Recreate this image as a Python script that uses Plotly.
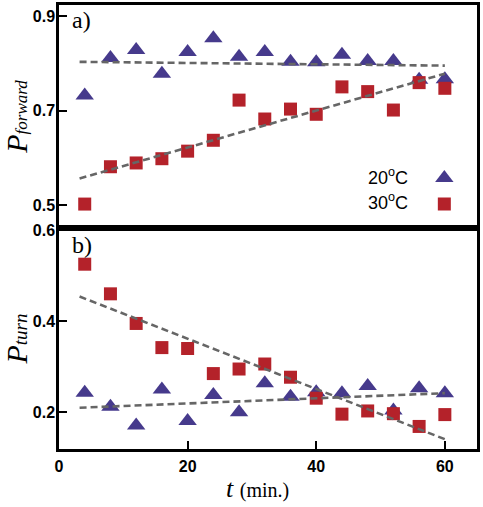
import plotly.graph_objects as go

# ---------------- data ----------------
t_min = [4, 8, 12, 16, 20, 24, 28, 32, 36, 40, 44, 48, 52, 56, 60]

fwd_20C = [0.732, 0.811, 0.828, 0.778, 0.824, 0.853, 0.814, 0.824, 0.803, 0.802,
           0.818, 0.805, 0.805, 0.765, 0.766]
fwd_30C = [0.502, 0.581, 0.589, 0.598, 0.614, 0.637, 0.722, 0.682, 0.703, 0.692,
           0.750, 0.740, 0.701, 0.759, 0.747]

turn_20C = [0.243, 0.212, 0.171, 0.250, 0.181, 0.238, 0.200, 0.264, 0.234, 0.244,
            0.242, 0.258, 0.204, 0.253, 0.242]
turn_30C = [0.525, 0.460, 0.395, 0.342, 0.340, 0.285, 0.295, 0.306, 0.277, 0.231,
            0.196, 0.203, 0.197, 0.169, 0.195]

# linear fits (end points)
fit_t = [3.2, 60]
fit_fwd_20C = [0.803, 0.795]
fit_fwd_30C = [0.556, 0.778]
fit_turn_20C = [0.210, 0.242]
fit_turn_30C = [0.454, 0.141]

series_names = ["20<sup>o</sup>C", "30<sup>o</sup>C"]
x_ticks = [0, 20, 40, 60]
fwd_ticks = [0.5, 0.7, 0.9]
turn_ticks = [0.2, 0.4, 0.6]

# ---------------- style ----------------
TRI = "#463a8c"
SQR = "#b4222a"
FIT = "#666666"
sans = "Liberation Sans, Arial, sans-serif"
tickfont = dict(family=sans, size=16, color="black", weight="bold")
serif = "Liberation Serif, DejaVu Serif, serif"

fig = go.Figure()

def add_panel(yref_axis, ytri, ysq, fit20, fit30, legend):
    xa = "x" if yref_axis == "y" else "x2"
    fig.add_trace(go.Scatter(x=t_min, y=ytri, mode="markers", name=series_names[0],
                             legendgroup="g20",
                             marker=dict(symbol="triangle-up", size=16, color=TRI),
                             showlegend=legend, xaxis=xa, yaxis=yref_axis))
    fig.add_trace(go.Scatter(x=t_min, y=ysq, mode="markers", name=series_names[1],
                             legendgroup="g30",
                             marker=dict(symbol="square", size=13, color=SQR),
                             showlegend=legend, xaxis=xa, yaxis=yref_axis))
    for f in (fit20, fit30):
        fig.add_trace(go.Scatter(x=fit_t, y=f, mode="lines", showlegend=False,
                                 line=dict(color=FIT, width=2.6, dash="7px,4px"),
                                 xaxis=xa, yaxis=yref_axis))

add_panel("y", fwd_20C, fwd_30C, fit_fwd_20C, fit_fwd_30C, True)
add_panel("y2", turn_20C, turn_30C, fit_turn_20C, fit_turn_30C, False)

split = 0.4977
frame = dict(showline=True, linecolor="black", linewidth=2.5, mirror=True,
             showgrid=False, zeroline=False)
yticks_common = dict(ticks="inside", ticklen=8, tickwidth=2, tickcolor="black",
                     tickfont=tickfont, ticklabelstandoff=-2)

fig.update_layout(
    width=483, height=507,
    margin=dict(l=59, r=6, t=5, b=58, autoexpand=False),
    paper_bgcolor="white", plot_bgcolor="white",
    xaxis=dict(domain=[0, 1], anchor="y", range=[0, 65], matches="x2",
               showticklabels=False, ticks="", **frame),
    yaxis=dict(domain=[split, 1], anchor="x", range=[0.4513, 0.9233],
               tickvals=fwd_ticks, ticktext=["0.5", "0.7", "0.9"],
               title=dict(text="<i>P</i><span style='font-size:17px'><i>forward</i></span>",
                          font=dict(family=serif, size=30, color="black"), standoff=14),
               **yticks_common, **frame),
    xaxis2=dict(domain=[0, 1], anchor="y2", range=[0, 65],
                tickvals=x_ticks, ticks="inside", ticklen=8, tickwidth=2, tickcolor="black",
                tickfont=tickfont, ticklabelstandoff=1,
                **frame),
    yaxis2=dict(domain=[0, split], anchor="x2", range=[0.1195, 0.6044],
                tickvals=turn_ticks, ticktext=["0.2", "0.4", "0.6"],
                title=dict(text="<i>P</i><span style='font-size:19px'><i>turn</i></span>",
                           font=dict(family=serif, size=30, color="black"), standoff=14),
                **yticks_common, **frame),
    legend=dict(x=0.874, y=0.643, xanchor="left", yanchor="top",
                bgcolor="rgba(0,0,0,0)", traceorder="grouped", tracegroupgap=7,
                font=dict(size=1, color="rgba(0,0,0,0)")),
    showlegend=True,
)

# x-axis title
fig.add_annotation(xref="paper", yref="paper", x=0.476, y=-0.088, xanchor="center", yanchor="middle",
                   text="<i>t</i> <span style='font-size:20px'>(min.)</span>", showarrow=False,
                   font=dict(family=serif, size=26, color="black"))

# legend labels (text to the left of the legend symbols)
fig.add_annotation(xref="paper", yref="paper", x=0.84, y=0.614, xanchor="right", yanchor="middle",
                   text=series_names[0], showarrow=False,
                   font=dict(family=sans, size=18, color="black"))
fig.add_annotation(xref="paper", yref="paper", x=0.84, y=0.558, xanchor="right", yanchor="middle",
                   text=series_names[1], showarrow=False,
                   font=dict(family=sans, size=18, color="black"))

# panel labels
fig.add_annotation(xref="paper", yref="paper", x=0.026, y=0.966, xanchor="left", yanchor="middle",
                   text="a)", showarrow=False, font=dict(family=serif, size=24, color="black"))
fig.add_annotation(xref="paper", yref="paper", x=0.026, y=0.459, xanchor="left", yanchor="middle",
                   text="b)", showarrow=False, font=dict(family=serif, size=24, color="black"))

fig.write_html("out.html", post_script="document.body.style.margin='0';",
               config={"displayModeBar": False})
